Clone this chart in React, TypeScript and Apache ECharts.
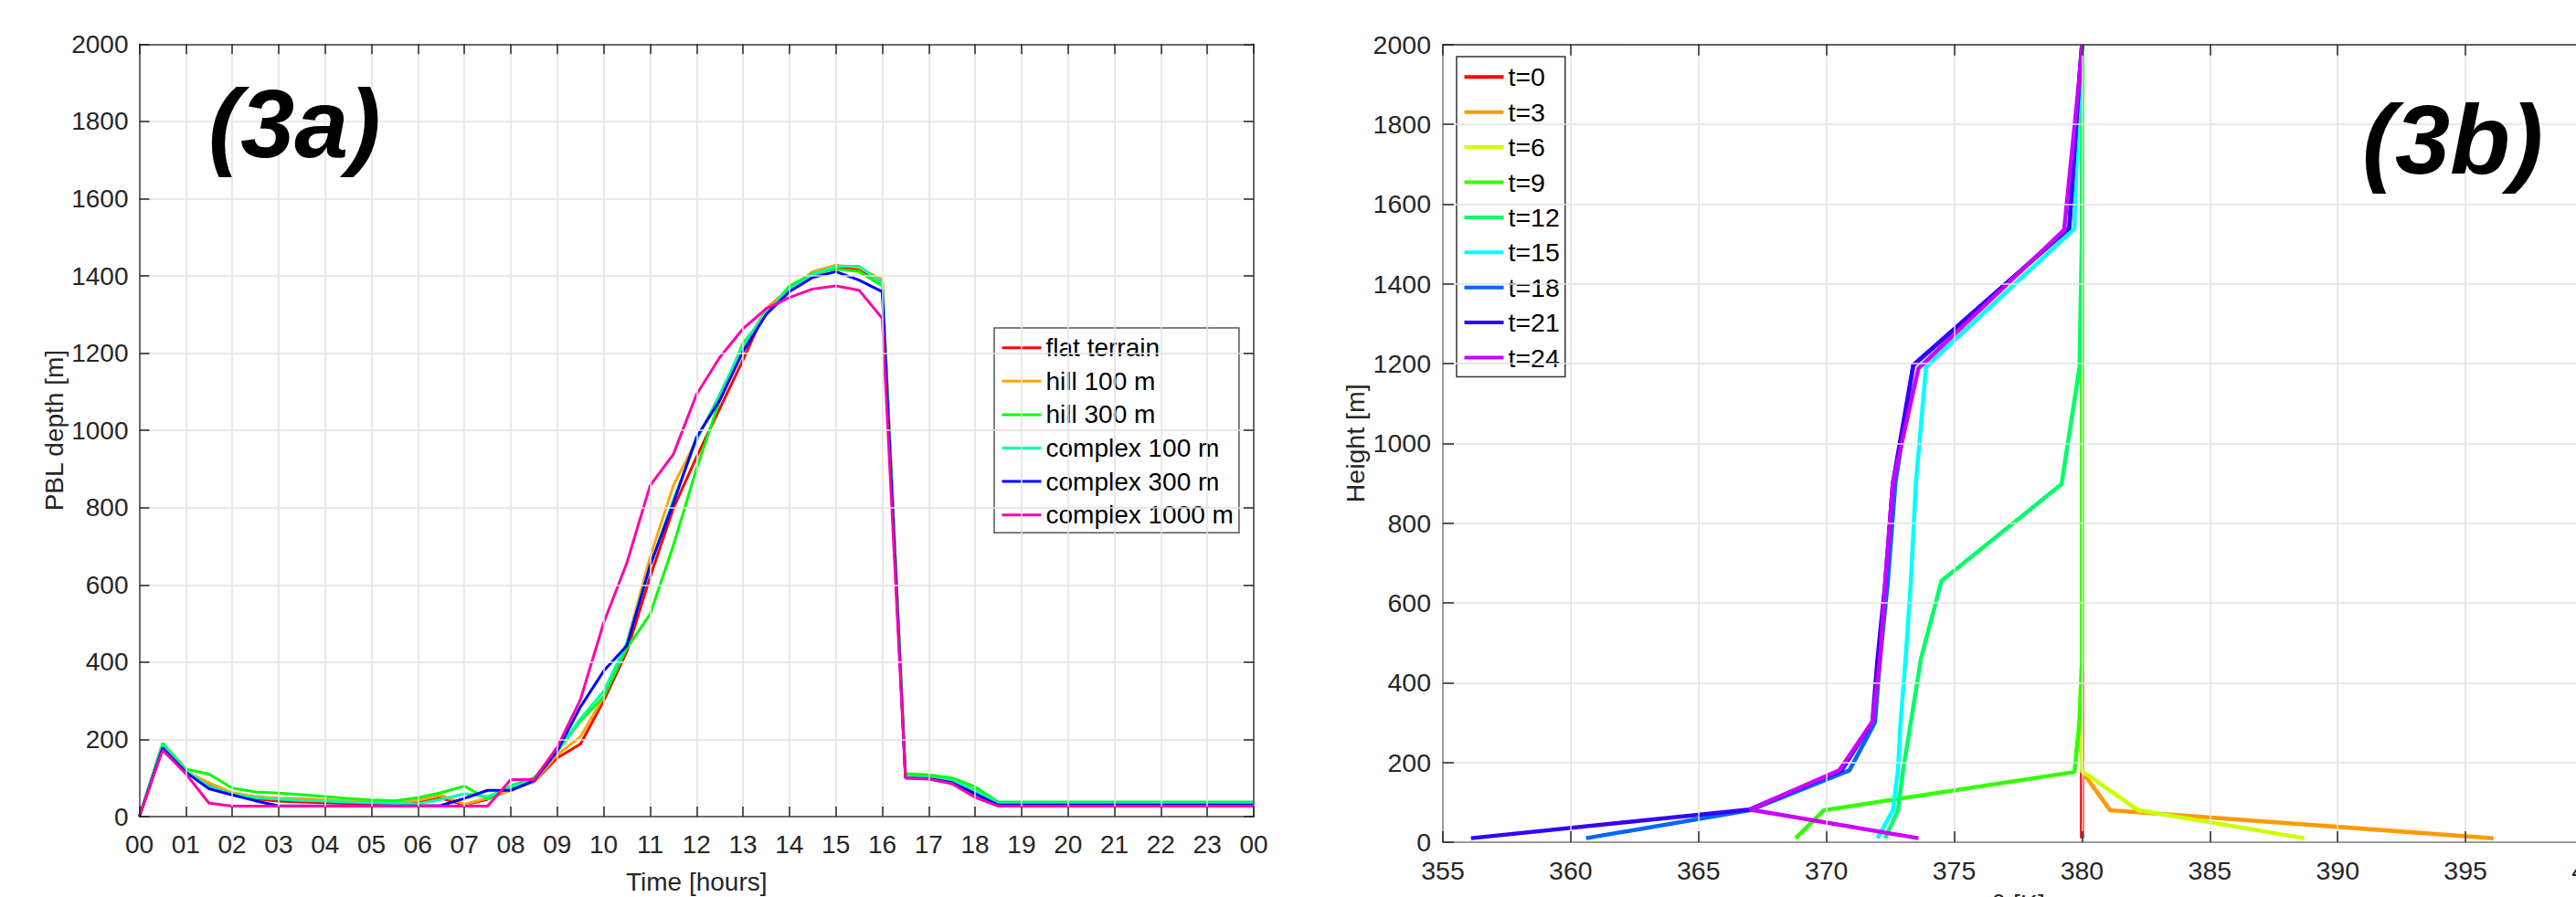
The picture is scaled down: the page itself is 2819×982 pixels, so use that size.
import React, { useEffect, useRef } from "react";
import * as echarts from "echarts";

const FONT = "'Liberation Sans', Arial, Helvetica, sans-serif";

// ---------- Panel (3a): PBL depth vs time ----------
const hours = [
  0, 0.5, 1, 1.5, 2, 2.5, 3, 3.5, 4, 4.5, 5, 5.5, 6, 6.5, 7, 7.5, 8, 8.5, 9, 9.5,
  10, 10.5, 11, 11.5, 12, 12.5, 13, 13.5, 14, 14.5, 15, 15.5, 16, 16.5, 17, 17.5,
  18, 18.5, 19, 19.5, 20, 20.5, 21, 21.5, 22, 22.5, 23, 23.5, 24,
];

const pblNames = ["flat terrain", "hill 100 m", "hill 300 m", "complex 100 m", "complex 300 m", "complex 1000 m"];
const pblColors = ["#ff0000", "#ffa500", "#00ff00", "#00ffaa", "#0000ff", "#ff00aa"];

const flatTerrain = [
  0, 180, 115, 80, 56, 46, 40, 38, 36, 34, 33, 32, 38, 48, 30, 45, 70, 90, 152, 188,
  300, 428, 620, 798, 931, 1056, 1182, 1315, 1366, 1403, 1421, 1418, 1384, 103, 100, 92,
  66, 31, 31, 31, 31, 31, 31, 31, 31, 31, 31, 31, 31,
];
const hill100 = [
  0, 182, 117, 88, 62, 52, 48, 46, 44, 41, 38, 35, 42, 55, 32, 48, 68, 90, 160, 207,
  310, 450, 672, 857, 975, 1093, 1211, 1315, 1366, 1411, 1428, 1421, 1391, 105, 102, 94,
  68, 33, 33, 33, 33, 33, 33, 33, 33, 33, 33, 33, 33,
];
const hill300 = [
  0, 190, 123, 110, 74, 64, 61, 57, 52, 47, 43, 41, 49, 62, 79, 45, 80, 100, 168, 248,
  310, 436, 524, 702, 901, 1078, 1226, 1300, 1374, 1406, 1418, 1411, 1374, 111, 108, 100,
  77, 38, 38, 38, 38, 38, 38, 38, 38, 38, 38, 38, 38,
];
const complex100 = [
  0, 185, 118, 78, 58, 49, 45, 42, 40, 38, 36, 34, 33, 45, 59, 52, 77, 95, 170, 254,
  325, 450, 650, 820, 975, 1093, 1219, 1307, 1366, 1403, 1425, 1425, 1381, 103, 101, 93,
  68, 34, 34, 34, 34, 34, 34, 34, 34, 34, 34, 34, 34,
];
const complex300 = [
  0, 178, 115, 72, 56, 41, 28, 28, 28, 28, 28, 28, 28, 29, 47, 68, 68, 93, 170, 284,
  377, 443, 650, 812, 982, 1078, 1204, 1300, 1359, 1396, 1411, 1389, 1359, 100, 98, 88,
  59, 30, 30, 30, 30, 30, 30, 30, 30, 30, 30, 30, 30,
];
const complex1000 = [
  0, 172, 111, 35, 27, 27, 27, 27, 27, 27, 27, 27, 27, 27, 27, 27, 96, 96, 180, 303,
  502, 657, 857, 938, 1093, 1189, 1263, 1315, 1344, 1366, 1374, 1363, 1290, 100, 97, 85,
  50, 27, 27, 27, 27, 27, 27, 27, 27, 27, 27, 27, 27,
];
const pblValues = [flatTerrain, hill100, hill300, complex100, complex300, complex1000];

// ---------- Panel (3b): theta profiles [theta K, height m] ----------
const profNames = ["t=0", "t=3", "t=6", "t=9", "t=12", "t=15", "t=18", "t=21", "t=24"];
const profColors = ["#ff0000", "#ff9900", "#ccff00", "#33ff00", "#00ff66", "#00ffff", "#0066ff", "#3300ff", "#cc00ff"];

const prof0 = [[380, 10], [380, 2000]];
const prof3 = [[396.1, 10], [381.1, 80], [380, 178], [380, 300], [380, 2000]];
const prof6 = [[388.7, 10], [382.2, 80], [380, 178], [379.9, 300], [380, 460], [380, 2000]];
const prof9 = [[368.8, 10], [369.9, 80], [379.7, 176], [379.9, 300], [380, 460], [380, 2000]];
const prof12 = [[372.3, 10], [372.8, 80], [373.0, 180], [373.3, 300], [373.7, 460], [374.5, 655], [379.2, 898], [379.9, 1190], [380, 1540], [380, 2000]];
const prof15 = [[372.0, 10], [372.6, 80], [372.8, 180], [372.9, 300], [373.1, 460], [373.3, 650], [373.5, 900], [373.9, 1192], [379.7, 1538], [379.9, 1920], [380, 2000]];
const prof18 = [[360.6, 10], [367.0, 80], [370.9, 180], [371.9, 300], [372.1, 460], [372.4, 650], [372.7, 900], [373.4, 1195], [379.5, 1540], [379.9, 1920], [380, 2000]];
const prof21 = [[356.1, 10], [367.0, 82], [370.6, 180], [371.8, 302], [372.0, 460], [372.3, 650], [372.6, 900], [373.4, 1197], [379.5, 1540], [379.9, 1920], [380, 2000]];
const prof24 = [[373.6, 10], [367.0, 82], [370.5, 180], [371.8, 302], [372.1, 460], [372.3, 650], [372.6, 900], [373.6, 1188], [379.3, 1535], [379.9, 1920], [380, 2000]];
const profValues = [prof0, prof3, prof6, prof9, prof12, prof15, prof18, prof21, prof24];

export default function App() {
  const ref = useRef<HTMLDivElement>(null);

  useEffect(() => {
    if (!ref.current) return;
    const chart = echarts.init(ref.current, undefined, { renderer: "svg" });

    const axisText = (size: number) => ({ fontSize: size, color: "#262626", fontFamily: FONT });
    const split = { show: true, lineStyle: { color: "#e2e2e2", width: 1.5 } };

    const mkAxis = (
      gridIndex: number,
      position: string,
      min: number,
      max: number,
      interval: number,
      opts: any
    ) => ({
      gridIndex,
      type: "value",
      position,
      min,
      max,
      interval,
      axisLine: { show: true, onZero: false, lineStyle: { color: opts.lineColor, width: 1.5 } },
      axisTick: { show: true, inside: true, length: opts.tickLen, lineStyle: { color: "#262626", width: 1.5 } },
      axisLabel: opts.label
        ? {
            show: true,
            ...axisText(opts.fontSize),
            margin: opts.margin,
            showMinLabel: true,
            showMaxLabel: true,
            hideOverlap: false,
            formatter: opts.formatter || ((v: number) => String(v)),
          }
        : { show: false },
      splitLine: opts.split ? split : { show: false },
      name: opts.name,
      nameLocation: "middle",
      nameGap: opts.nameGap,
      nameMoveOverlap: false,
      nameTextStyle: axisText(opts.fontSize),
      z: 5,
    });

    const hourFmt = (v: number) => String(Math.round(v) % 24).padStart(2, "0");

    const option: any = {
      animation: false,
      backgroundColor: "#ffffff",
      grid: [
        { left: 152.5, top: 48.3, width: 1219.5, height: 845.7, containLabel: false, outerBoundsMode: "none" },
        { left: 1579, top: 48.7, width: 1259, height: 873.3, containLabel: false, outerBoundsMode: "none" },
      ],
      xAxis: [
        mkAxis(0, "bottom", 0, 24, 1, {
          lineColor: "#404040", tickLen: 11, label: true, fontSize: 28, margin: 16,
          formatter: hourFmt, split: true, name: "Time [hours]", nameGap: 57,
        }),
        mkAxis(0, "top", 0, 24, 1, { lineColor: "#404040", tickLen: 11, label: false, split: false }),
        mkAxis(1, "bottom", 355, 400, 5, {
          lineColor: "#808080", tickLen: 12, label: true, fontSize: 28.5, margin: 16,
          split: true, name: "θ [K]", nameGap: 52,
        }),
        mkAxis(1, "top", 355, 400, 5, { lineColor: "#303030", tickLen: 12, label: false, split: false }),
      ],
      yAxis: [
        mkAxis(0, "left", 0, 2000, 200, {
          lineColor: "#404040", tickLen: 11, label: true, fontSize: 28, margin: 12,
          split: true, name: "PBL depth [m]", nameGap: 79,
        }),
        mkAxis(0, "right", 0, 2000, 200, { lineColor: "#404040", tickLen: 11, label: false, split: false }),
        mkAxis(1, "left", 0, 2000, 200, {
          lineColor: "#808080", tickLen: 12, label: true, fontSize: 28.5, margin: 13,
          split: true, name: "Height [m]", nameGap: 82,
        }),
        mkAxis(1, "right", 0, 2000, 200, { lineColor: "#808080", tickLen: 12, label: false, split: false }),
      ],
      legend: [
        {
          data: pblNames,
          orient: "vertical",
          left: 1088,
          top: 359,
          icon: "rect",
          itemWidth: 43,
          itemHeight: 3,
          itemGap: 8.6,
          padding: [7.7, 6, 5.6, 8.5],
          backgroundColor: "#ffffff",
          borderColor: "#555555",
          borderWidth: 1.5,
          textStyle: { fontSize: 28, lineHeight: 28, color: "#000000", fontFamily: FONT },
          selectedMode: false,
        },
        {
          data: profNames,
          orient: "vertical",
          left: 1594,
          top: 62,
          icon: "rect",
          itemWidth: 43,
          itemHeight: 4,
          itemGap: 9.4,
          padding: [7.8, 6, 6.5, 8.5],
          backgroundColor: "#ffffff",
          borderColor: "#333333",
          borderWidth: 1.5,
          textStyle: { fontSize: 28.5, lineHeight: 28.5, color: "#000000", fontFamily: FONT },
          selectedMode: false,
        },
      ],
      series: [
        ...pblNames.map((name, i) => ({
          name,
          type: "line",
          xAxisIndex: 0,
          yAxisIndex: 0,
          data: hours.map((h, k) => [h, pblValues[i][k]]),
          symbol: "none",
          color: pblColors[i],
          itemStyle: { color: pblColors[i] },
          lineStyle: { color: pblColors[i], width: 3 },
          clip: true,
        })),
        ...profNames.map((name, i) => ({
          name,
          type: "line",
          xAxisIndex: 2,
          yAxisIndex: 2,
          data: profValues[i],
          symbol: "none",
          color: profColors[i],
          itemStyle: { color: profColors[i] },
          lineStyle: { color: profColors[i], width: 4.5 },
          clip: true,
        })),
      ],
      graphic: [
        {
          type: "text",
          x: 228,
          y: 135,
          z: 100,
          style: {
            text: "(3a)",
            font: `italic bold 106px ${FONT}`,
            fill: "#000000",
            textVerticalAlign: "middle",
          },
        },
        {
          type: "text",
          x: 2585,
          y: 152,
          z: 100,
          style: {
            text: "(3b)",
            font: `italic bold 108px ${FONT}`,
            fill: "#000000",
            textVerticalAlign: "middle",
          },
        },
      ],
    };

    chart.setOption(option);
    return () => chart.dispose();
  }, []);

  return (
    <div
      ref={ref}
      style={{ position: "absolute", left: 0, top: 0, width: 2819, height: 982, background: "#ffffff" }}
    />
  );
}
